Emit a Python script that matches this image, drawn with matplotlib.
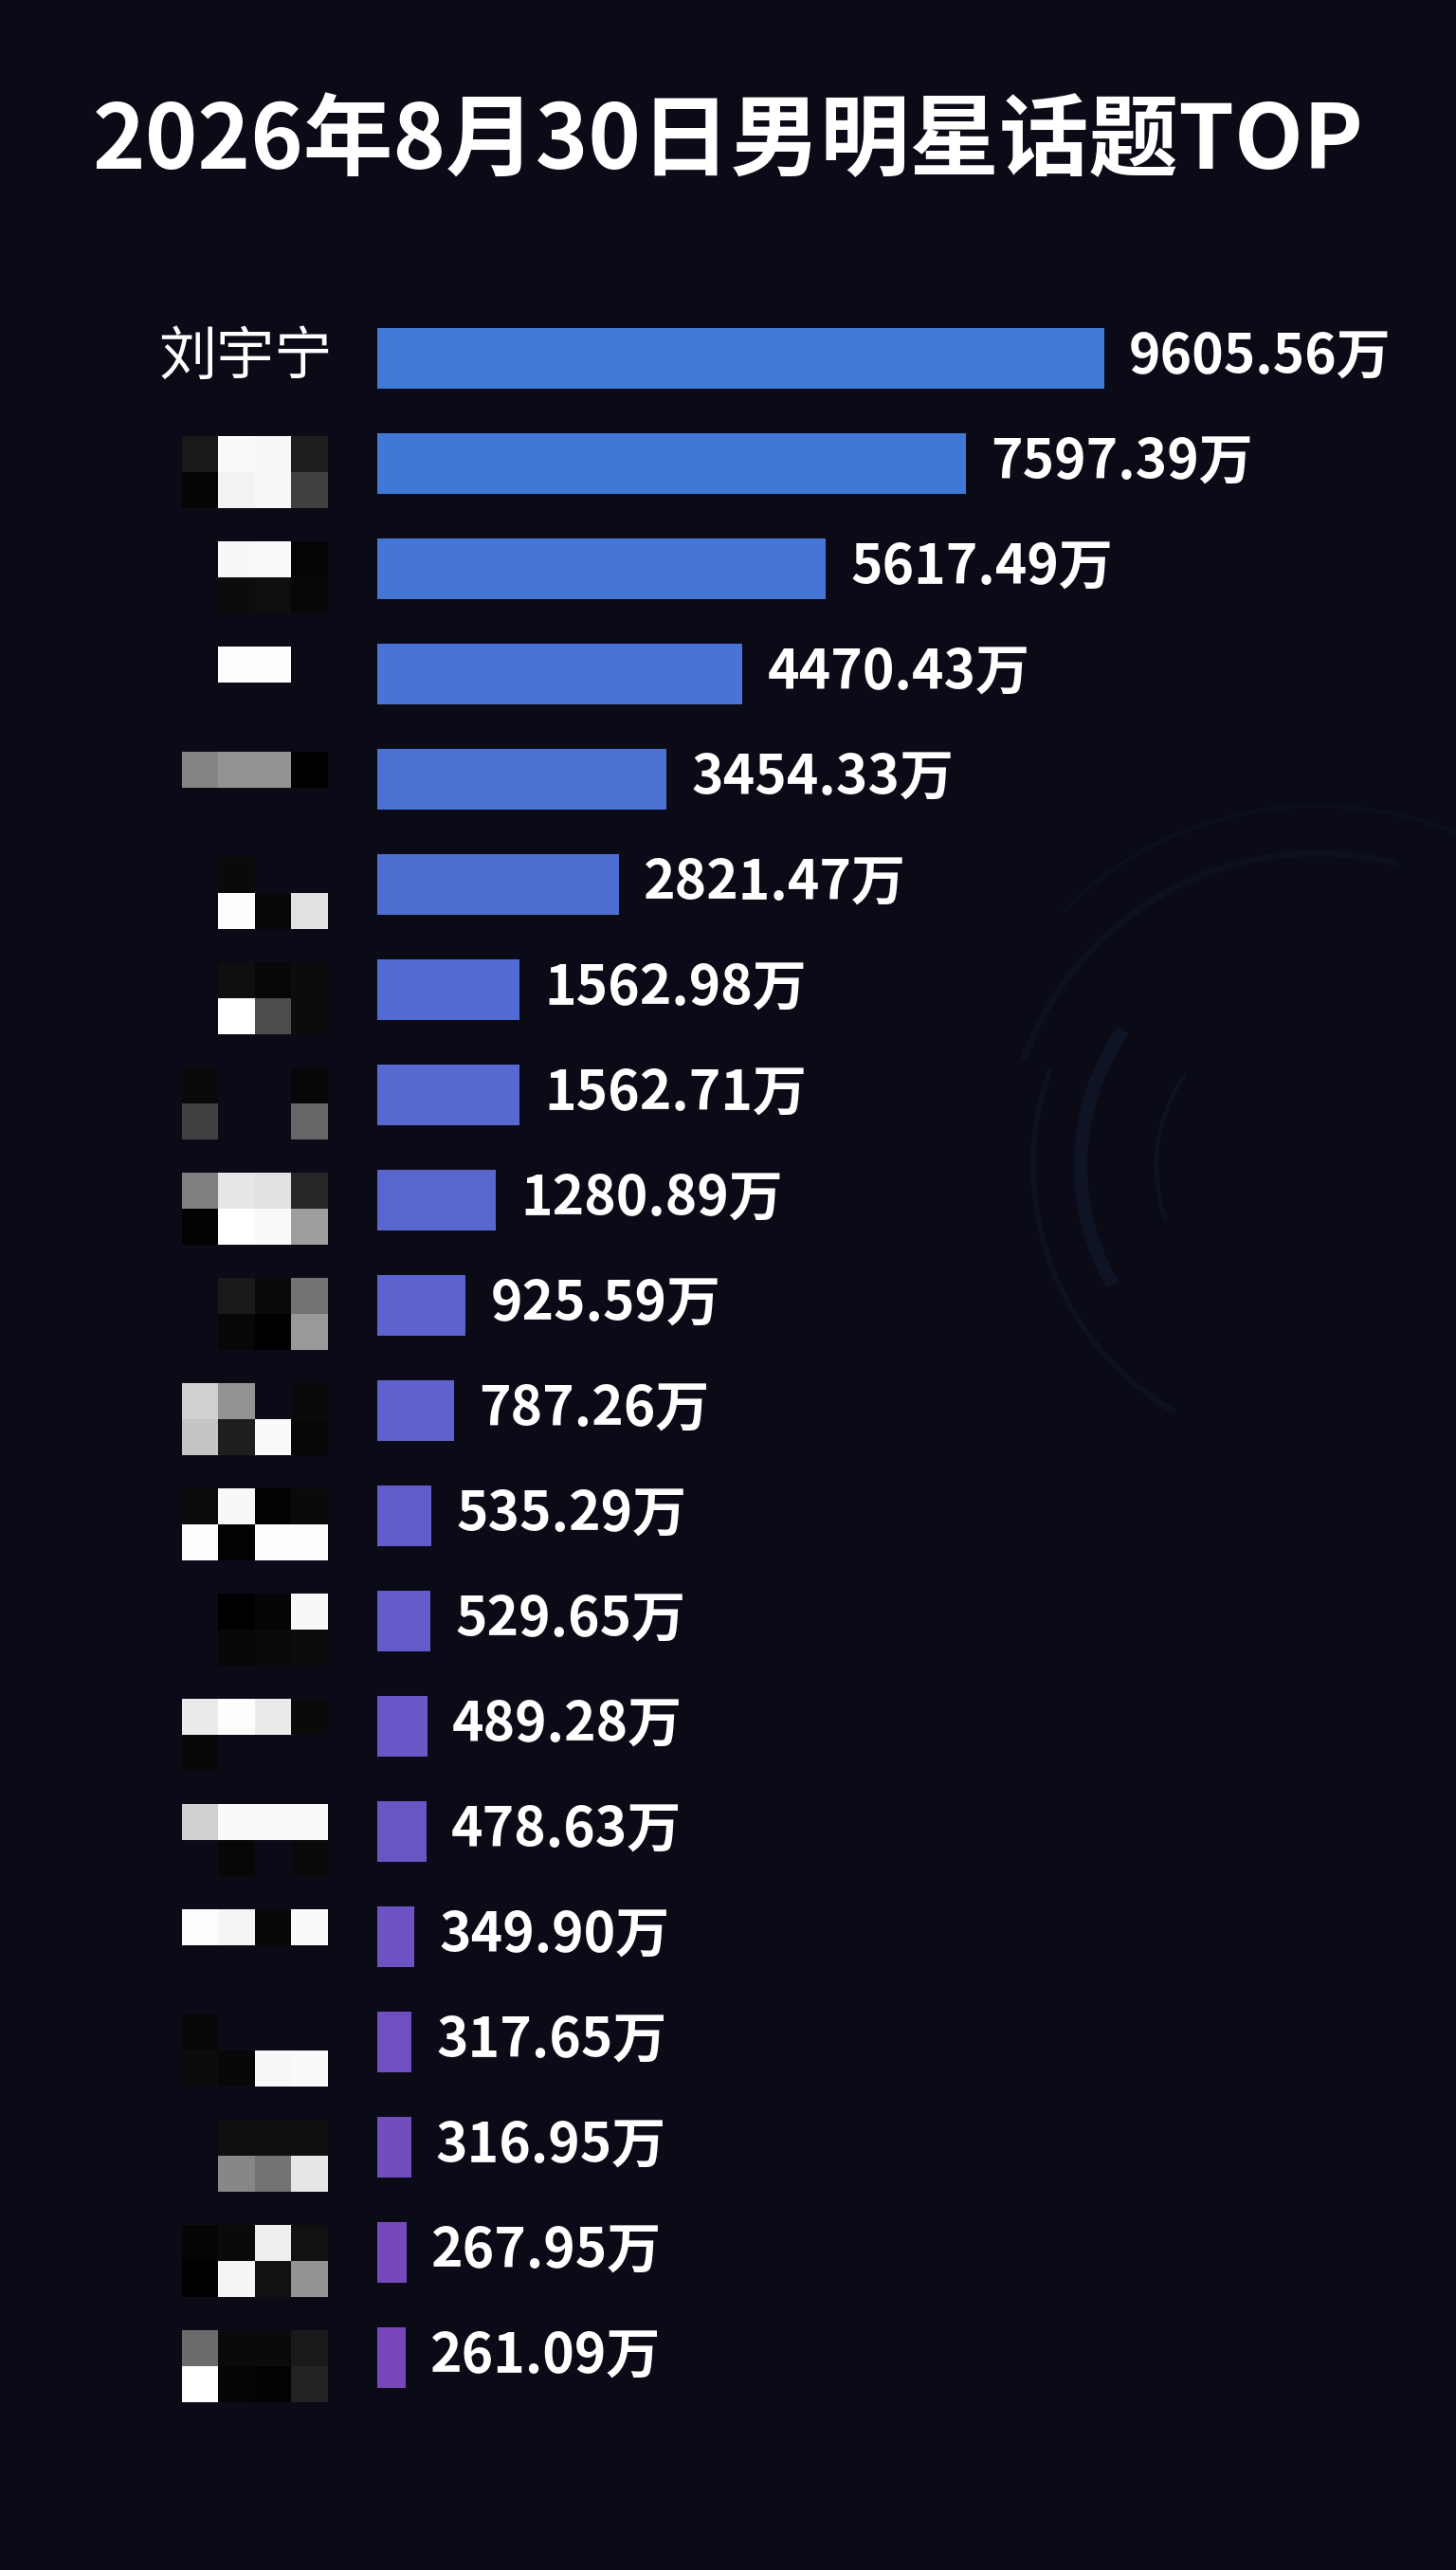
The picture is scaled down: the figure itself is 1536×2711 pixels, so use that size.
import numpy as np
import matplotlib.pyplot as plt
from matplotlib.colors import LinearSegmentedColormap
from matplotlib.patches import Arc

plt.rcParams['font.family'] = ['Noto Sans CJK SC', 'DejaVu Sans']

title = '2026年8月30日男明星话题TOP'
names = ['刘宇宁'] + [''] * 19
values = [9605.56, 7597.39, 5617.49, 4470.43, 3454.33, 2821.47, 1562.98,
          1562.71, 1280.89, 925.59, 787.26, 535.29, 529.65, 489.28,
          478.63, 349.90, 317.65, 316.95, 267.95, 261.09]

# pixelated (hidden) names, 2 x 4 grey blocks each, nan = nothing drawn
n = np.nan
mosaics = [
    None,
    [[0.10, 0.98, 0.97, 0.12], [0.02, 0.95, 0.97, 0.25]],
    [[n, 0.97, 0.98, 0.02], [n, 0.05, 0.06, 0.03]],
    [[n, 0.99, 0.99, n], [n, n, n, n]],
    [[0.52, 0.58, 0.58, 0.00], [n, n, n, n]],
    [[n, 0.04, n, n], [n, 0.99, 0.03, 0.88]],
    [[n, 0.06, 0.03, 0.05], [n, 1.00, 0.30, 0.05]],
    [[0.04, n, n, 0.03], [0.25, n, n, 0.40]],
    [[0.50, 0.90, 0.88, 0.15], [0.01, 1.00, 0.98, 0.62]],
    [[n, 0.10, 0.04, 0.45], [n, 0.03, 0.00, 0.60]],
    [[0.82, 0.58, n, 0.04], [0.77, 0.12, 0.98, 0.03]],
    [[0.05, 0.97, 0.01, 0.04], [0.99, 0.01, 0.99, 0.99]],
    [[n, 0.00, 0.02, 0.97], [n, 0.03, 0.04, 0.05]],
    [[0.92, 0.99, 0.92, 0.04], [0.03, n, n, n]],
    [[0.82, 0.98, 0.98, 0.98], [n, 0.03, n, 0.04]],
    [[0.99, 0.96, 0.03, 0.98], [n, n, n, n]],
    [[0.03, n, n, n], [0.05, 0.03, 0.97, 0.98]],
    [[n, 0.06, 0.06, 0.06], [n, 0.53, 0.45, 0.90]],
    [[0.02, 0.04, 0.93, 0.07], [0.00, 0.96, 0.07, 0.58]],
    [[0.42, 0.04, 0.04, 0.10], [1.00, 0.02, 0.01, 0.14]],
]

bg = '#0b0b18'
W, H = 1536, 2711
fig = plt.figure(figsize=(W / 100, H / 100), dpi=100, facecolor=bg)

# faint decorative rings in the background
ax_bg = fig.add_axes([0, 0, 1, 1], zorder=-1)
ax_bg.set_xlim(0, W)
ax_bg.set_ylim(H, 0)
ax_bg.axis('off')
for r, t1, t2, lw, a in [(250, 150, 215, 10, 0.18), (300, 120, 200, 4, 0.12),
                         (330, 200, 285, 5, 0.10), (170, 160, 215, 3, 0.12),
                         (380, 225, 300, 3, 0.08)]:
    ax_bg.add_patch(Arc((1390, 1230), 2 * r, 2 * r, theta1=t1, theta2=t2,
                        color='#24405e', lw=lw, alpha=a))

rows = len(values)
y = np.arange(rows)
ax_bottom = 168.5 / H
ax_height = 2220 / H

cmap = LinearSegmentedColormap.from_list('bars', ['#3f7bd6', '#5e62cf', '#7846ba'])
colors = [cmap(i / (rows - 1)) for i in y]

ax = fig.add_axes([398 / W, ax_bottom, 1138 / W, ax_height])
ax.set_xscale('function', functions=(lambda x: np.power(np.clip(x, 0, None), 0.9),
                                     lambda x: np.power(np.clip(x, 0, None), 1 / 0.9)))
ax.barh(y, values, height=0.58, color=colors)
ax.set_xlim(0, 14900)
ax.set_ylim(rows - 0.5, -0.5)
ax.axis('off')

for i, v in enumerate(values):
    ax.annotate(f'{v:.2f}万', (v, i), xytext=(19, 0), textcoords='offset points',
                ha='left', va='center', color='white', fontsize=41, fontweight='bold')
    if names[i]:
        ax.annotate(names[i], (0, i), xytext=(-34, 0), textcoords='offset points',
                    ha='right', va='center', color='white', fontsize=44,
                    fontweight='medium')

# mosaic blocks where names were blurred out
gray = plt.get_cmap('gray').copy()
gray.set_bad(alpha=0)
ax_m = fig.add_axes([192 / W, ax_bottom, 154 / W, ax_height])
bh = 0.342
off = 0.08
for i, m in enumerate(mosaics):
    if m is None:
        continue
    ax_m.imshow(np.array(m, dtype=float), cmap=gray, vmin=0, vmax=1,
                extent=(0, 4, i + off + bh, i + off - bh), aspect='auto',
                interpolation='nearest')
ax_m.set_xlim(0, 4)
ax_m.set_ylim(rows - 0.5, -0.5)
ax_m.axis('off')

fig.text(0.5, 1 - 150 / H, title, ha='center', va='center', color='white',
         fontsize=68, fontweight='heavy')

fig.savefig('out.png', dpi=100, facecolor=bg)
